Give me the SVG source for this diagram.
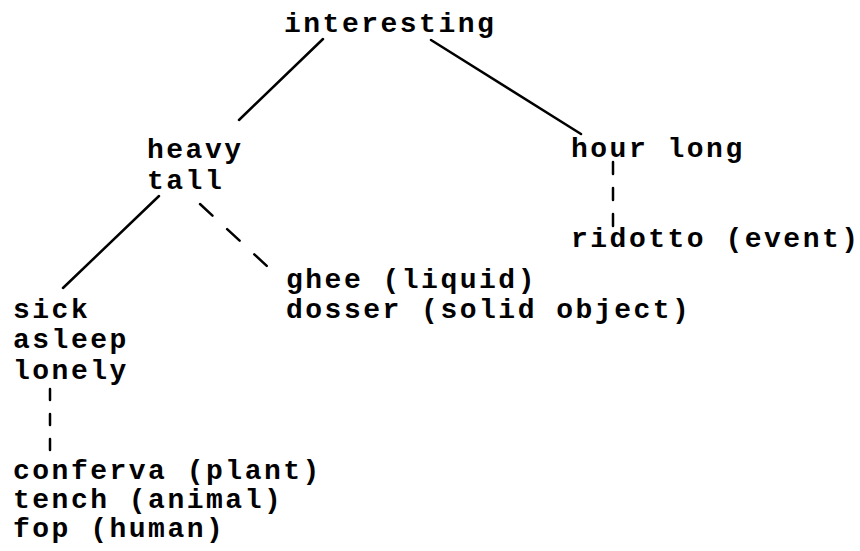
<svg xmlns="http://www.w3.org/2000/svg" width="860" height="551" viewBox="0 0 860 551">
<style>
text{font-family:"Liberation Mono","Courier New",monospace;font-weight:bold;font-size:28px;letter-spacing:2.5px;fill:#000}
.c line{stroke:#000;stroke-width:2.5;stroke-linecap:round}
.c .d{stroke-dasharray:17 20}
.c .v{stroke-dasharray:12 14}
.c .w{stroke-dasharray:11 14}
</style>
<rect width="860" height="551" fill="#fff"/>
<g class="c" id="connectors">
<line x1="323" y1="39" x2="239" y2="120"/>
<line x1="431" y1="40" x2="581" y2="134"/>
<line x1="159" y1="196" x2="63" y2="288"/>
<line class="d" x1="200" y1="204" x2="268" y2="267"/>
<line class="v" x1="613" y1="162" x2="613" y2="226"/>
<line class="w" x1="50" y1="389" x2="50" y2="450"/>
</g>
<g id="n-interesting"><text x="284" y="32">interesting</text></g>
<g id="n-heavy"><text x="147" y="158">heavy</text><text x="147" y="189">tall</text></g>
<g id="n-hour"><text x="571" y="157">hour long</text></g>
<g id="n-ridotto"><text x="571" y="247">ridotto (event)</text></g>
<g id="n-ghee"><text x="286" y="288">ghee (liquid)</text><text x="286" y="318">dosser (solid object)</text></g>
<g id="n-sick"><text x="13" y="318">sick</text><text x="13" y="348">asleep</text><text x="13" y="379">lonely</text></g>
<g id="n-conferva"><text x="13" y="479">conferva (plant)</text><text x="13" y="508">tench (animal)</text><text x="13" y="537">fop (human)</text></g>
</svg>
